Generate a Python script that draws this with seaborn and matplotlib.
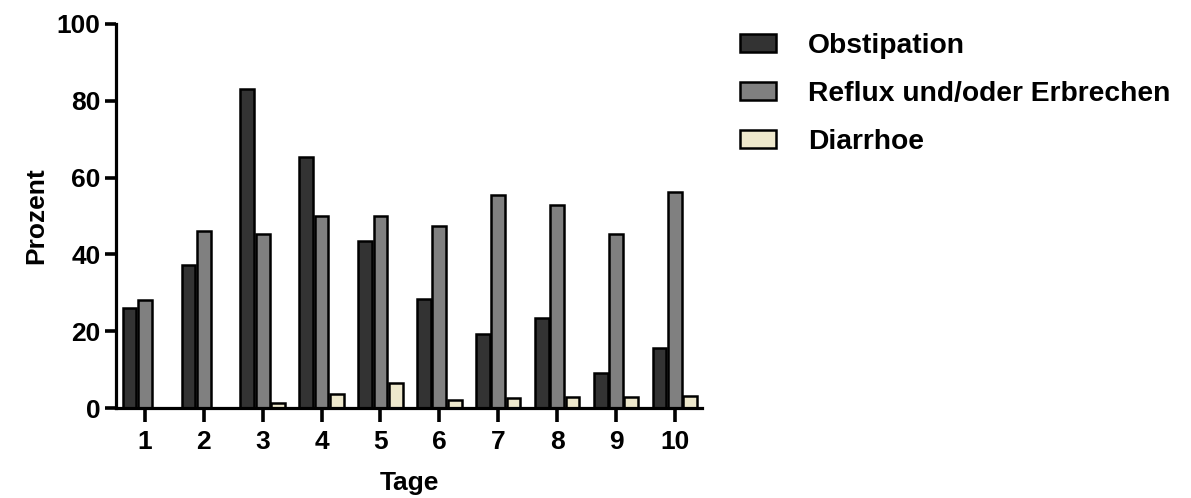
import pandas as pd
import seaborn as sns
import matplotlib.pyplot as plt

days = ["1", "2", "3", "4", "5", "6", "7", "8", "9", "10"]
series = ["Obstipation", "Reflux und/oder Erbrechen", "Diarrhoe"]

obstipation = [26.1, 37.2, 83.2, 65.3, 43.5, 28.5, 19.3, 23.5, 9.0, 15.6]
reflux = [28.2, 46.1, 45.4, 49.9, 49.9, 47.5, 55.5, 52.8, 45.4, 56.2]
diarrhoe = [0.0, 0.0, 1.4, 3.6, 6.4, 2.2, 2.6, 2.8, 2.9, 3.0]

colors = ["#333333", "#808080", "#EEE8CC"]

df = pd.DataFrame({
    "Tage": days * 3,
    "Prozent": obstipation + reflux + diarrhoe,
    "Serie": [s for s in series for _ in days],
})

sns.set_style("ticks")
plt.rcParams["font.family"] = ["Liberation Sans", "DejaVu Sans"]
plt.rcParams["font.weight"] = "bold"
plt.rcParams["text.color"] = "black"
plt.rcParams["axes.labelcolor"] = "black"

fig = plt.figure(figsize=(11.91, 4.98), dpi=100)
ax = fig.add_axes([116 / 1191, 90 / 498, 586 / 1191, 384 / 498])

sns.barplot(
    data=df,
    x="Tage",
    y="Prozent",
    hue="Serie",
    hue_order=series,
    palette=colors,
    width=0.78,
    gap=0.1,
    edgecolor="black",
    linewidth=1.8,
    saturation=1,
    ax=ax,
)

ax.set_ylim(0, 100)
ax.set_xlim(-0.49, 9.46)
ax.set_yticks([0, 20, 40, 60, 80, 100])
ax.set_ylabel("Prozent", fontsize=19, fontweight="bold", labelpad=6)
ax.set_xlabel("Tage", fontsize=19, fontweight="bold", labelpad=12)

for side in ["top", "right"]:
    ax.spines[side].set_visible(False)
for side in ["left", "bottom"]:
    ax.spines[side].set_linewidth(2.3)
    ax.spines[side].set_color("black")

ax.tick_params(axis="both", labelsize=19, width=2.6, colors="black")
ax.tick_params(axis="x", length=10, pad=6)
ax.tick_params(axis="y", length=8, pad=3)
for lbl in ax.get_xticklabels() + ax.get_yticklabels():
    lbl.set_fontweight("bold")

handles, labels = ax.get_legend_handles_labels()
ax.get_legend().remove()
fig.legend(
    handles,
    labels,
    loc="upper left",
    bbox_to_anchor=(726 / 1191, 1 - 19 / 498),
    frameon=False,
    prop={"weight": "bold", "size": 20.3},
    handlelength=1.27,
    handleheight=0.58,
    handletextpad=1.15,
    labelspacing=0.78,
    borderpad=0,
)

fig.savefig("out.png", dpi=100)
